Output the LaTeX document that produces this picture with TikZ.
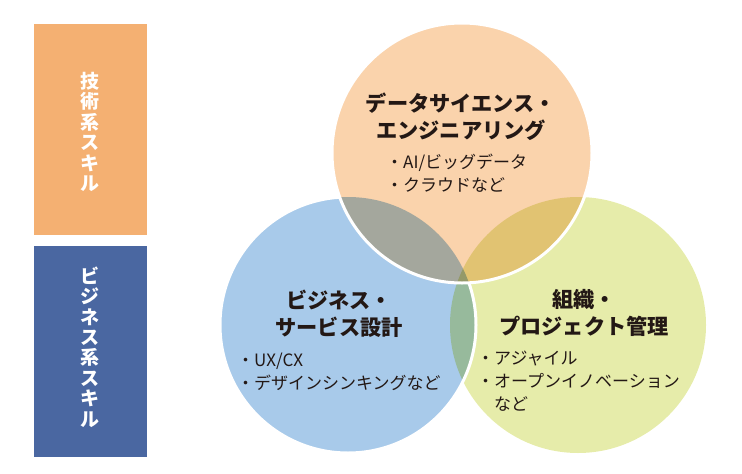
\documentclass[tikz,border=0pt]{standalone}
\usepackage{fontspec}
\setmainfont{Noto Sans CJK JP}
\definecolor{TechClr}{RGB}{244,176,114}
\definecolor{BizClr}{RGB}{74,103,161}
\definecolor{DataClr}{RGB}{250,211,172}
\definecolor{ServClr}{RGB}{168,202,234}
\definecolor{OrgClr}{RGB}{230,236,170}
\definecolor{TextClr}{RGB}{35,24,21}

\tikzset{
  head/.style={font=\bfseries\fontsize{21.2}{27}\selectfont,text=TextClr,align=center,inner sep=0pt},
  items/.style={font=\fontsize{17}{23}\selectfont,text=TextClr,align=left,inner sep=0pt,anchor=west},
  vtext/.style={font=\bfseries\fontsize{19}{20.4}\selectfont,text=white,align=center,inner sep=0pt},
  skillbox/.style={minimum width=113pt,minimum height=211pt,inner sep=0pt}
}

\begin{document}
\begin{tikzpicture}[x=1pt,y=-1pt]
\useasboundingbox (0,0) rectangle (742,474);

\coordinate (D) at (462,153);
\coordinate (S) at (348,325);
\coordinate (O) at (578,325);

% skill boxes on the left
\node[skillbox,fill=TechClr] (tech) at (90.5,129.5) {};
\node[skillbox,fill=BizClr] (biz) at (90.5,351.5) {};
\node[vtext] (techTxt) at (90,132) {技\\術\\系\\ス\\キ\\ル};
\node[vtext] (bizTxt) at (90,347) {ビ\\ジ\\ネ\\ス\\系\\ス\\キ\\ル};

% three circles
\fill[OrgClr] (O) circle[radius=128pt];
\fill[ServClr,blend mode=multiply] (S) circle[radius=128pt];
\begin{scope}[even odd rule]
  \clip (0,0) rectangle (742,474) (D) circle[radius=130pt];
  \draw[white,line width=3pt] (S) circle[radius=128pt];
\end{scope}
\fill[DataClr,blend mode=multiply] (D) circle[radius=130pt];
\draw[white,line width=3pt] (D) circle[radius=130pt];

% texts
\node[head] (dataHead) at (461,116.5) {データサイエンス・\\エンジニアリング};
\node[items] (dataItems) at (386,173.5) {・AI/ビッグデータ\\・クラウドなど};

\node[head] (servHead) at (339,314) {ビジネス・\\サービス設計};
\node[items] (servItems) at (237,371.5) {・UX/CX\\・デザインシンキングなど};

\node[head] (orgHead) at (584,313) {組織・\\プロジェクト管理};
\node[items] (orgItems) at (477,381.5) {・アジャイル\\・オープンイノベーション\\\hspace{1em}など};
\end{tikzpicture}
\end{document}
